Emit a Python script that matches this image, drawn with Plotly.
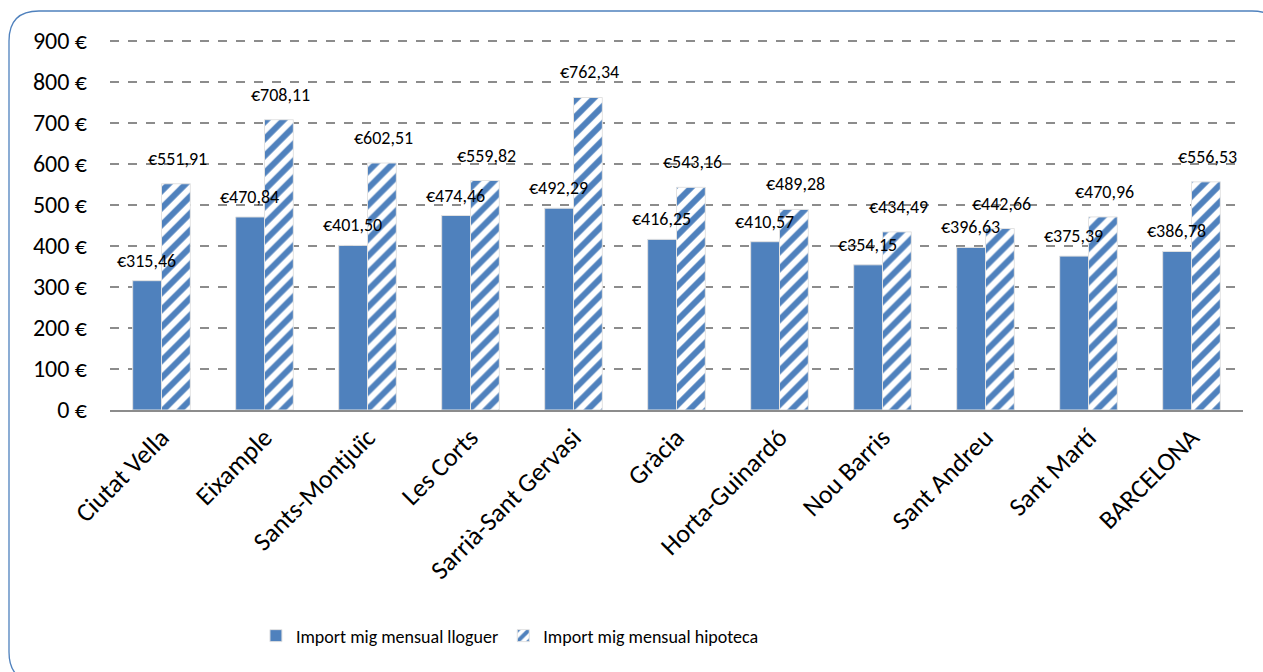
import plotly.graph_objects as go

districts = ["Ciutat Vella", "Eixample", "Sants-Montjuïc", "Les Corts", "Sarrià-Sant Gervasi",
             "Gràcia", "Horta-Guinardó", "Nou Barris", "Sant Andreu", "Sant Martí", "BARCELONA"]
lloguer = [315.46, 470.84, 401.50, 474.46, 492.29, 416.25, 410.57, 354.15, 396.63, 375.39, 386.78]
hipoteca = [551.91, 708.11, 602.51, 559.82, 762.34, 543.16, 489.28, 434.49, 442.66, 470.96, 556.53]
series_names = ["Import mig mensual lloguer", "Import mig mensual hipoteca"]
y_ticks = [0, 100, 200, 300, 400, 500, 600, 700, 800, 900]
y_tick_labels = ["0 €", "100 €", "200 €", "300 €", "400 €", "500 €", "600 €", "700 €", "800 €", "900 €"]

BLUE = "#4F81BD"
FONT = "Carlito, Lato, sans-serif"

def fmt(v):
    return "€" + f"{v:.2f}".replace(".", ",")

fig = go.Figure()
fig.add_trace(go.Bar(x=districts, y=lloguer, name=series_names[0],
                     marker=dict(color=BLUE, line=dict(color="#E2E2E2", width=1))))
fig.add_trace(go.Bar(x=districts, y=hipoteca, name=series_names[1],
                     marker=dict(color="white", line=dict(color="#E2E2E2", width=1),
                                 pattern=dict(shape="/", fgcolor=BLUE, bgcolor="white",
                                              fgopacity=1, size=12, solidity=0.5))))

for d, v in zip(districts, lloguer):
    fig.add_annotation(x=d, y=v, text=fmt(v), showarrow=False, xshift=-15, yshift=8,
                       yanchor="bottom", borderpad=0,
                       font=dict(size=18, color="black", family=FONT))
for d, v in zip(districts, hipoteca):
    fig.add_annotation(x=d, y=v, text=fmt(v), showarrow=False, xshift=16, yshift=13,
                       yanchor="bottom", borderpad=0,
                       font=dict(size=18, color="black", family=FONT))

# rounded border (pixel -> paper conversion)
L, T, W, H = 110, 39, 1133, 371
def px(xp): return (xp - L) / W
def py(yp): return (T + H - yp) / H
x0, x1, y0, y1, r = 9, 1282, 11, 682, 30
path = (f"M {px(x0)},{py(y0+r)} Q {px(x0)},{py(y0)} {px(x0+r)},{py(y0)} "
        f"L {px(x1-r)},{py(y0)} Q {px(x1)},{py(y0)} {px(x1)},{py(y0+r)} "
        f"L {px(x1)},{py(y1-r)} Q {px(x1)},{py(y1)} {px(x1-r)},{py(y1)} "
        f"L {px(x0+r)},{py(y1)} Q {px(x0)},{py(y1)} {px(x0)},{py(y1-r)} Z")
fig.add_shape(type="path", path=path, xref="paper", yref="paper",
              line=dict(color="#4F81BD", width=1.3), fillcolor="rgba(0,0,0,0)", layer="below")

fig.update_layout(
    width=1263, height=672,
    margin=dict(l=L, r=1263 - L - W, t=T, b=672 - T - H),
    paper_bgcolor="white", plot_bgcolor="white",
    barmode="group", bargap=0.44, bargroupgap=0,
    font=dict(family=FONT, color="black"),
    showlegend=True,
    legend=dict(orientation="h", x=0.353, xanchor="center", y=-0.609, yanchor="middle",
                font=dict(size=18), traceorder="normal"),
    xaxis=dict(tickangle=-45, tickfont=dict(size=26), showgrid=False, showline=True,
               linecolor="#8C8C8C", linewidth=2, ticks=""),
    yaxis=dict(range=[0, 905], tickmode="array", tickvals=y_ticks, ticktext=y_tick_labels,
               tickfont=dict(size=24),
               showgrid=True, gridcolor="#8C8C8C", gridwidth=1.5, griddash="dash",
               zeroline=False, showline=False, ticklabelstandoff=22),
)

fig.write_html("out.html", post_script="document.body.style.margin='0';",
               config={"displayModeBar": False})
